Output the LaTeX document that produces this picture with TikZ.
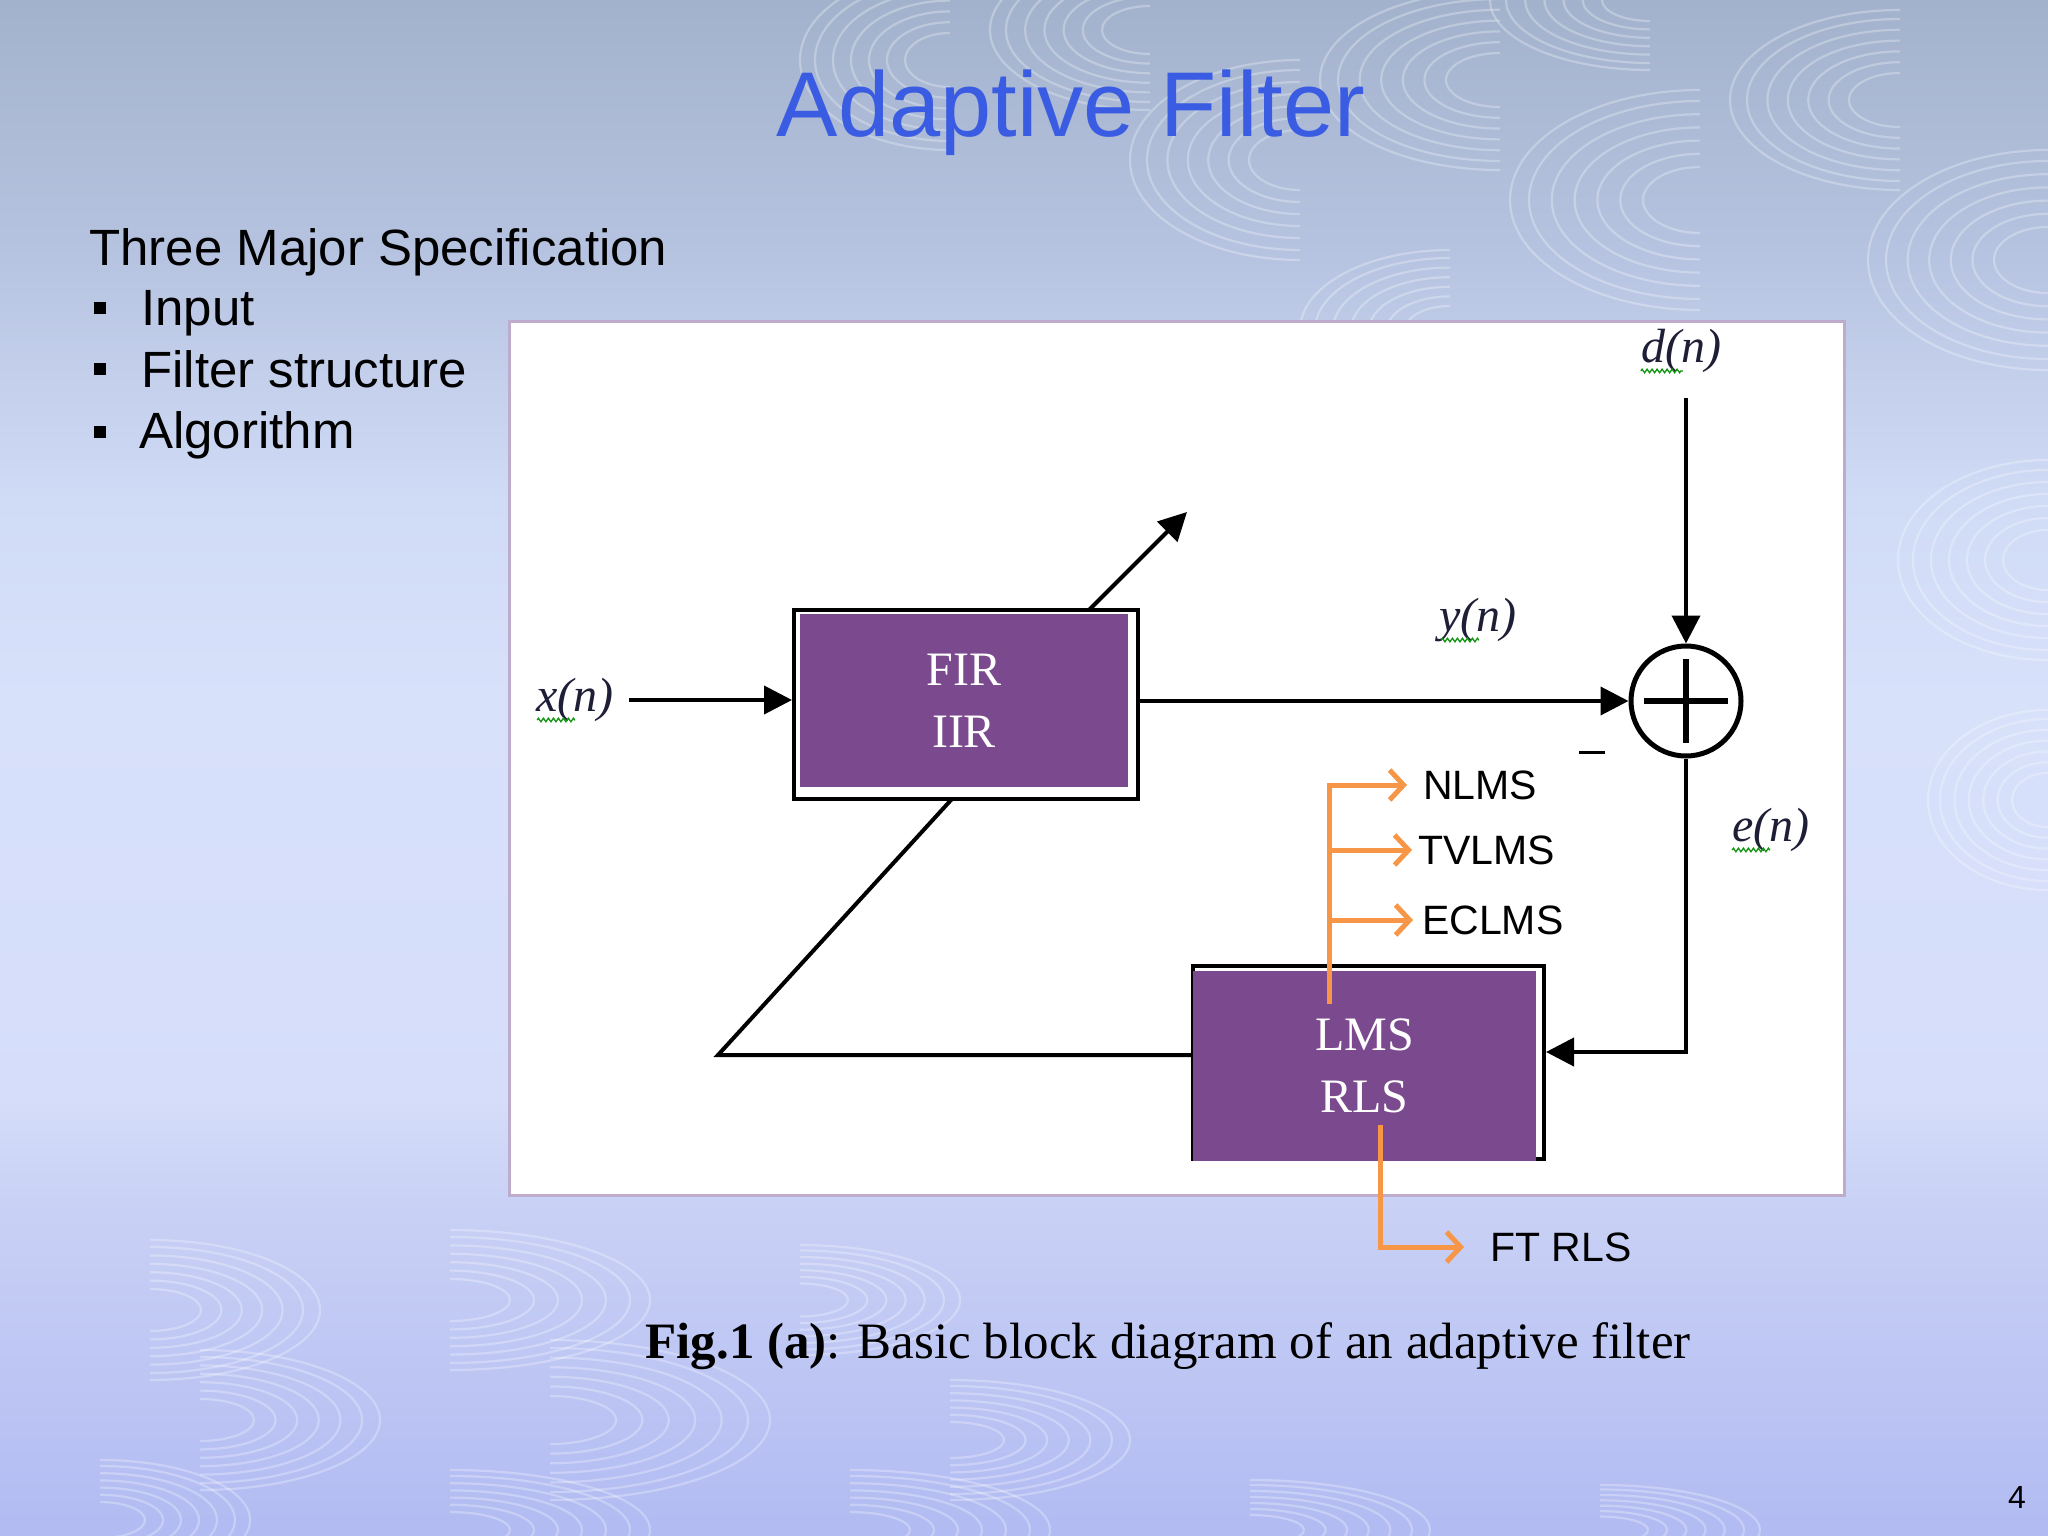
\documentclass[tikz,border=0pt]{standalone}
\usepackage{fontspec}
\setmainfont{Liberation Serif}
\setsansfont{Liberation Sans}
\usetikzlibrary{arrows.meta,decorations.pathmorphing,calc}
\definecolor{bgA}{RGB}{163,178,204}
\definecolor{bgB}{RGB}{182,195,224}
\definecolor{bgC}{RGB}{208,219,246}
\definecolor{bgD}{RGB}{216,225,250}
\definecolor{bgE}{RGB}{213,221,250}
\definecolor{bgF}{RGB}{201,209,245}
\definecolor{bgG}{RGB}{178,187,242}
\definecolor{titleblue}{RGB}{58,92,226}
\definecolor{boxpurple}{RGB}{123,73,141}
\definecolor{panelline}{RGB}{190,172,205}
\definecolor{sigorange}{RGB}{247,150,70}
\definecolor{labelink}{RGB}{30,30,55}
\definecolor{squigcol}{RGB}{20,150,20}
\pgfdeclareverticalshading{slidebg}{100bp}{color(0bp)=(bgG); color(25bp)=(bgG); color(35.9bp)=(bgF); color(39.2bp)=(bgE); color(52.2bp)=(bgD); color(58.7bp)=(bgC); color(66.9bp)=(bgB); color(75bp)=(bgA); color(100bp)=(bgA)}
\begin{document}
\begin{tikzpicture}[x=1pt,y=-1pt,
  swirl/.style={white, opacity=0.28, line width=2.2pt},
  sig/.style={line width=4pt, -{Triangle[length=28pt,width=28pt]}},
  frame/.style={draw=black, line width=4pt, fill=white, inner sep=0pt},
  purplebox/.style={fill=boxpurple, inner sep=0pt, text=white, align=center, font=\fontsize{48}{62}\selectfont},
  lbl/.style={font=\fontsize{48}{48}\selectfont\itshape, text=labelink, inner sep=0pt},
  squig/.style={draw=squigcol, line width=1.3pt, decorate, decoration={zigzag, amplitude=1.8pt, segment length=5pt}},
  algo/.style={font=\sffamily\fontsize{41}{41}\selectfont, inner sep=0pt, anchor=west},
  oarr/.style={draw=sigorange, line width=5pt, -{Straight Barb[length=14pt,width=30pt]}},
  bodytxt/.style={font=\sffamily\fontsize{51}{51}\selectfont, inner sep=0pt, anchor=base west},
  bulletsq/.style={fill=black, minimum size=12, inner sep=0pt}]
\useasboundingbox (0,0) rectangle (2048,1536);
\shade[shading=slidebg] (0,0) rectangle (2048,1536);
% decorative swirls, top right
\foreach \cx/\cy/\xr/\yr in {950/60/150/90, 1150/30/160/80, 1300/160/170/100, 1500/80/180/90, 1700/200/190/110, 1900/100/170/90, 2048/260/180/110, 1450/330/150/80, 1800/420/160/90, 2048/560/150/100, 2048/800/120/90, 1650/0/160/70}{
  \foreach \k in {0.3,0.42,0.54,0.66,0.78,0.9,1.0}{
    \draw[swirl] (\cx,\cy) ++(0,\yr*\k) arc[start angle=90,end angle=270,x radius=\xr*\k,y radius=\yr*\k];
  }
}
% decorative swirls, bottom left
\foreach \cx/\cy/\xr/\yr in {150/1310/170/70, 450/1300/200/70, 800/1300/160/55, 200/1420/180/70, 550/1420/220/80, 950/1440/180/60, 100/1520/150/60, 450/1530/200/60, 850/1530/200/60, 1250/1530/180/50, 1600/1530/160/45}{
  \foreach \k in {0.3,0.42,0.54,0.66,0.78,0.9,1.0}{
    \draw[swirl] (\cx,\cy) ++(0,-\yr*\k) arc[start angle=-90,end angle=90,x radius=\xr*\k,y radius=\yr*\k];
  }
}
% title and text
\node[font=\sffamily\fontsize{92}{92}\selectfont, text=titleblue, anchor=base] (title) at (1071,137) {Adaptive Filter};
\node[bodytxt] (spec) at (89,265) {Three Major Specification};
\node[bulletsq] (b1) at (99.5,308) {};
\node[bodytxt] (inp) at (141,325) {Input};
\node[bulletsq] (b2) at (99.5,369) {};
\node[bodytxt] (fs) at (141,387) {Filter structure};
\node[bulletsq] (b3) at (99.5,432) {};
\node[bodytxt] (alg) at (139,448) {Algorithm};
% panel
\draw[draw=panelline, line width=3pt, fill=white] (509,321) rectangle (1844,1195);
% LMS block
\node[frame, minimum width=351, minimum height=193] (lmsframe) at (1368.5,1062.5) {};
\node[purplebox, minimum width=343, minimum height=190] (lms) at (1364.5,1066) {LMS\\RLS};
% feedback / adaptation arrow
\coordinate (fbl) at (718,1055);
\coordinate (diagA) at (951,800);
\coordinate (diagB) at (1087,612);
\coordinate (adapt) at (1187,512);
\draw[line width=4pt, line join=miter, -{Triangle[length=28pt,width=28pt]}] (fbl -| lmsframe.west) -- (fbl) -- (diagA) -- (diagB) -- (adapt);
% FIR block
\node[frame, minimum width=344, minimum height=189] (firframe) at (966,704.5) {};
\node[purplebox, minimum width=328, minimum height=173] (fir) at (964,700.5) {FIR\\IIR};
% labels
\node[lbl] (xn) at (575,700) {x(n)};
\node[lbl] (dn) at (1681,351) {d(n)};
\node[lbl] (yn) at (1478,620) {y(n)};
\node[lbl] (en) at (1771,830) {e(n)};
\draw[squig] ($(xn.south west)+(1,-2)$) -- ++(38,0);
\draw[squig] ($(dn.south west)+(0,-2)$) -- ++(42,0);
\draw[squig] ($(yn.south west)+(2,-2)$) -- ++(38,0);
\draw[squig] ($(en.south west)+(0,-2)$) -- ++(38,0);
% summer
\node[circle, draw=black, line width=5pt, minimum size=110, inner sep=0pt] (sum) at (1686,701) {};
\draw[line width=6pt] ($(sum.center)+(-42,0)$) -- ($(sum.center)+(42,0)$);
\draw[line width=6pt] ($(sum.center)+(0,-42)$) -- ($(sum.center)+(0,42)$);
\node[inner sep=0pt] (minus) at (1592,752) {\rule{26pt}{3pt}};
% signal connectors
\draw[sig, shorten <=15pt] (xn.east) -- (xn.east -| firframe.west);
\draw[sig] (firframe.east |- sum.west) -- (sum.west);
\coordinate (dtop) at (1686,398);
\draw[sig] (dtop) -- (sum.north);
\coordinate (ecorner) at (1686,1052);
\draw[sig] (sum.south) -- (ecorner) -- (ecorner -| lmsframe.east);
% orange algorithm arrows
\coordinate (lmsup) at (1329,1004);
\coordinate (ob1) at (1329,785);
\coordinate (ob2) at (1329,850);
\coordinate (ob3) at (1329,920);
\node[algo] (nlms) at (1423,785) {NLMS};
\node[algo] (tvlms) at (1418,850) {TVLMS};
\node[algo] (eclms) at (1422,920) {ECLMS};
\draw[oarr, shorten >=16pt] (lmsup) -- (ob1) -- (nlms.west);
\draw[oarr, shorten >=6pt] (ob2) -- (tvlms.west);
\draw[oarr, shorten >=9pt] (ob3) -- (eclms.west);
\coordinate (lmsdown) at (1380,1125);
\coordinate (ocorner) at (1380,1247);
\node[algo] (ftrls) at (1490,1247) {FT RLS};
\draw[oarr, shorten >=26pt] (lmsdown) -- (ocorner) -- (ftrls.west);
% caption and page number
\node[font=\fontsize{51}{51}\selectfont, anchor=base] (caption) at (1168,1358) {\textbf{Fig.1 (a)}: Basic block diagram of an adaptive filter};
\node[font=\sffamily\fontsize{32}{32}\selectfont, anchor=base] (pnum) at (2017,1508) {4};
\end{tikzpicture}
\end{document}
